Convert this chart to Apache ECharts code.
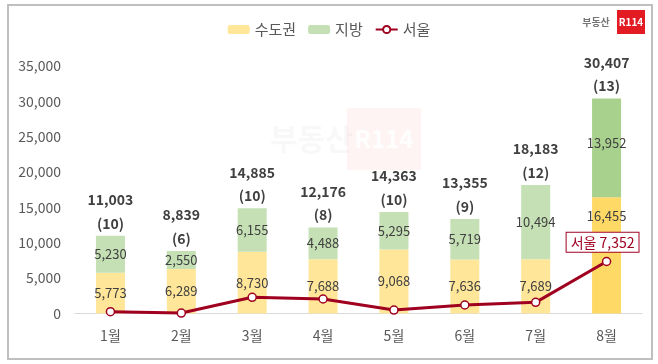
<!DOCTYPE html>
<html><head><meta charset="utf-8">
<script src="https://cdn.jsdelivr.net/npm/echarts@6/dist/echarts.min.js"></script>
<style>html,body{margin:0;padding:0;background:#fff}#c{width:658px;height:364px}</style>
</head><body><div id="c"></div>
<script>
const categories = ['1월','2월','3월','4월','5월','6월','7월','8월'];
const metro = [5773,6289,8730,7688,9068,7636,7689,16455];
const local = [5230,2550,6155,4488,5295,5719,10494,13952];
const totals = [11003,8839,14885,12176,14363,13355,18183,30407];
const counts = [10,6,10,8,10,9,12,13];
const seoul = [250,60,2290,2050,490,1200,1580,7352];
const yTicks = [0,5000,10000,15000,20000,25000,30000,35000];

const FONT = 'Noto Sans CJK KR';
const fmt = v => v.toLocaleString('en-US');
const chart = echarts.init(document.getElementById('c'));
const last = categories.length - 1;

chart.setOption({
  backgroundColor: '#fff',
  textStyle: {fontFamily: FONT},
  animation: false,
  legend: {
    top: 17, left: 'center',
    data: ['수도권','지방','서울'],
    itemWidth: 22, itemHeight: 9, itemGap: 12,
    textStyle: {color: '#595959', fontSize: 15, fontFamily: FONT}
  },
  grid: {left: 75, right: 16, top: 66, bottom: 50.5, containLabel: false},
  xAxis: {
    type: 'category', data: categories,
    axisLine: {lineStyle: {color: '#D9D9D9', width: 1}},
    axisTick: {show: false},
    axisLabel: {color: '#595959', fontSize: 14, margin: 15, fontFamily: FONT}
  },
  yAxis: {
    type: 'value', min: yTicks[0], max: yTicks[yTicks.length-1], interval: 5000,
    axisLine: {show: false}, axisTick: {show: false}, splitLine: {show: false},
    axisLabel: {color: '#595959', fontSize: 14, margin: 14, formatter: v => fmt(v), fontFamily: FONT}
  },
  series: [
    {
      name: '수도권', type: 'bar', stack: 'a', barWidth: 29,
      itemStyle: {color: '#FFE699'},
      data: metro.map((v,i) => i === last ? {value: v, itemStyle: {color: '#FFD966'},
        label: {position: 'insideTop', distance: 12}} : v),
      label: {show: true, position: 'inside', color: '#404040', fontSize: 13, formatter: p => fmt(p.value), fontFamily: FONT}
    },
    {
      name: '지방', type: 'bar', stack: 'a', barWidth: 29,
      itemStyle: {color: '#C5E0B4'},
      data: local.map((v,i) => i === last ? {value: v, itemStyle: {color: '#A9D18E'},
        label: {offset: [0, -5]}} : v),
      label: {show: true, position: 'inside', color: '#404040', fontSize: 13, formatter: p => fmt(p.value), fontFamily: FONT}
    },
    {
      name: 'total', type: 'bar', stack: 'a', barWidth: 29,
      itemStyle: {color: 'rgba(0,0,0,0)'},
      data: totals.map(() => 0),
      label: {
        show: true, position: 'top', distance: 1,
        formatter: p => '{a|' + fmt(totals[p.dataIndex]) + '}\n{b|(' + counts[p.dataIndex] + ')}',
        rich: {
          a: {fontSize: 14, fontWeight: 'bold', color: '#404040', lineHeight: 24, fontFamily: FONT},
          b: {fontSize: 14, fontWeight: 'bold', color: '#404040', lineHeight: 23, fontFamily: FONT}
        }
      },
      silent: true
    },
    {
      name: '서울', type: 'line', z: 5,
      symbol: 'circle', symbolSize: 8,
      lineStyle: {color: '#A00020', width: 3},
      itemStyle: {color: '#fff', borderColor: '#A00020', borderWidth: 1.5},
      data: seoul.map((v,i) => i === last ? {value: v, label: {
        show: true, position: 'top', distance: 5, offset: [-4, 0],
        formatter: p => '서울 ' + fmt(p.value),
        color: '#A00020', fontSize: 14, backgroundColor: '#fff',
        borderColor: '#A00020', borderWidth: 1, padding: [3, 4, 2, 4], fontFamily: FONT
      }} : v)
    }
  ],
  graphic: [
    {type: 'rect', shape: {x: 8, y: 5, width: 644, height: 354}, style: {fill: 'none', stroke: '#BFBFBF', lineWidth: 2}, silent: true},
    {type: 'text', left: 270, top: 124, style: {text: '부동산', fill: 'rgba(210,210,210,0.15)', fontSize: 30, fontWeight: 'bold', fontFamily: FONT}, silent: true, z: -1},
    {type: 'rect', shape: {x: 347, y: 108, width: 74, height: 62}, style: {fill: 'rgba(230,30,40,0.05)'}, silent: true, z: -1},
    {type: 'text', x: 384, y: 139, style: {text: 'R114', align: 'center', verticalAlign: 'middle', fill: 'rgba(255,255,255,0.9)', fontSize: 24, fontWeight: 'bold', fontFamily: FONT}, silent: true, z: -1},
    {type: 'text', x: 596, y: 22, style: {text: '부동산', align: 'center', verticalAlign: 'middle', fill: '#777', fontSize: 10, fontWeight: 'bold', fontFamily: FONT}, silent: true},
    {type: 'rect', shape: {x: 617, y: 10, width: 28, height: 24}, style: {fill: '#E31B23'}, silent: true},
    {type: 'text', x: 631, y: 22, style: {text: 'R114', align: 'center', verticalAlign: 'middle', fill: '#fff', fontSize: 10, fontWeight: 'bold', fontFamily: FONT}, silent: true}
  ]
});
</script></body></html>
